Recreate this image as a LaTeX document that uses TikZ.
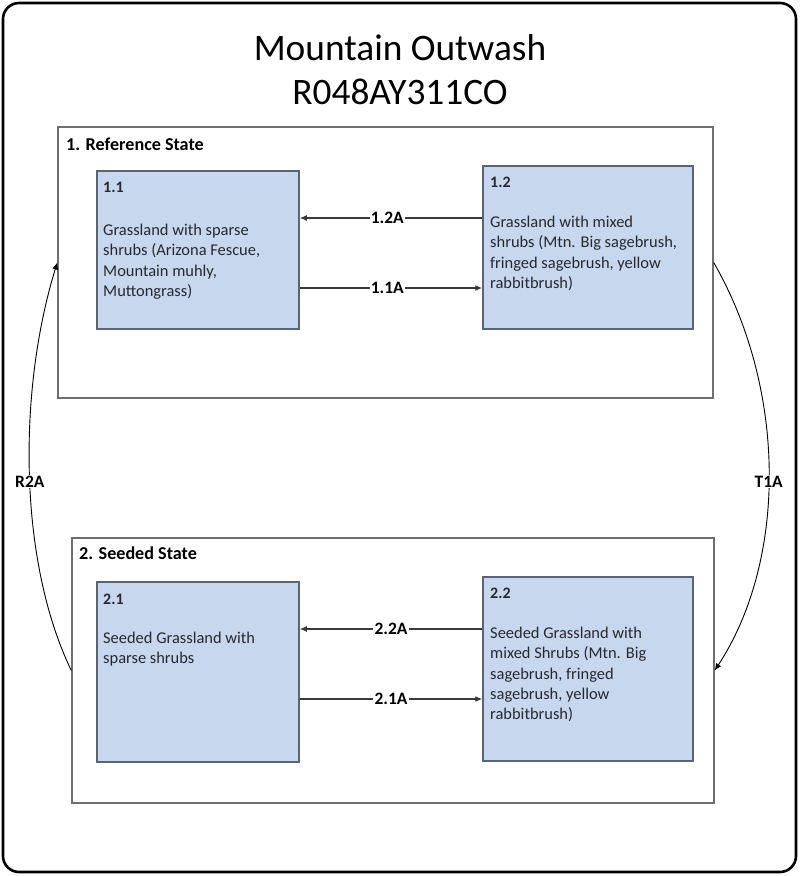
\documentclass[tikz,border=0pt]{standalone}
\usepackage{fontspec}
\setmainfont{Carlito}
\usetikzlibrary{arrows.meta}
\definecolor{boxfill}{HTML}{C6D7EE}
\definecolor{boxdraw}{HTML}{5B6473}
\definecolor{statedraw}{HTML}{6E6E6E}
\definecolor{txt}{HTML}{262A30}
\definecolor{linec}{HTML}{3A3A3A}
\tikzset{
  x=1bp, y=-1bp,
  outer/.style={draw=black, line width=2.6bp, rounded corners=16bp},
  statebox/.style={draw=statedraw, line width=1.4bp, fill=white, inner sep=0pt},
  phasebox/.style={draw=boxdraw, line width=1.5bp, fill=boxfill, inner sep=0pt},
  statelbl/.style={anchor=north west, inner sep=0pt, font=\fontsize{18.2}{22}\selectfont\bfseries, text=black},
  numlbl/.style={anchor=north west, inner sep=0pt, font=\fontsize{16}{20}\selectfont\bfseries, text=txt},
  bodytxt/.style={anchor=north west, inner sep=0pt, align=left, font=\fontsize{16.5}{20.3}\selectfont, text=txt},
  arr/.style={draw=linec, line width=1.1bp, -{Latex[length=7bp,width=6bp]}},
  curv/.style={draw=black, line width=0.9bp, -{Latex[length=7bp,width=6bp]}},
  lbl/.style={fill=white, inner sep=1.2bp, font=\fontsize{17.5}{20}\selectfont\bfseries, text=black},
}
\begin{document}
\begin{tikzpicture}
\useasboundingbox (0,0) rectangle (800,876);
\draw[outer] (3,3) rectangle (796,872);
\node[inner sep=0pt, align=center, font=\fontsize{37.5}{44}\selectfont, text=black] (title) at (400,70) {Mountain Outwash\\R048AY311CO};

% state boxes
\node[statebox, minimum width=655bp, minimum height=271bp] (s1) at (385.5,262.5) {};
\node[statebox, minimum width=642bp, minimum height=265bp] (s2) at (393,670.5) {};
\node[statelbl] (s1l) at (66,137.5) {1. Reference State};
\node[statelbl] (s2l) at (79,547) {2. Seeded State};

% phase boxes
\node[phasebox, minimum width=202bp, minimum height=158bp] (b11) at (198,250) {};
\node[phasebox, minimum width=210bp, minimum height=163bp] (b12) at (588,247.5) {};
\node[phasebox, minimum width=202bp, minimum height=180bp] (b21) at (198,672) {};
\node[phasebox, minimum width=210bp, minimum height=184bp] (b22) at (588,669) {};

\node[numlbl] (n11) at (103,182) {1.1};
\node[numlbl] (n12) at (490,177) {1.2};
\node[numlbl] (n21) at (103,594) {2.1};
\node[numlbl] (n22) at (490,588) {2.2};

\node[bodytxt] (t11) at (103,224) {Grassland with sparse\\shrubs (Arizona Fescue,\\Mountain muhly,\\Muttongrass)};
\node[bodytxt] (t12) at (490,216) {Grassland with mixed\\shrubs (Mtn. Big sagebrush,\\fringed sagebrush, yellow\\rabbitbrush)};
\node[bodytxt] (t21) at (103,632) {Seeded Grassland with\\sparse shrubs};
\node[bodytxt] (t22) at (490,627) {Seeded Grassland with\\mixed Shrubs (Mtn. Big\\sagebrush, fringed\\sagebrush, yellow\\rabbitbrush)};

% within-state transitions
\coordinate (ya) at (0,218);
\coordinate (yb) at (0,288);
\coordinate (yc) at (0,629);
\coordinate (yd) at (0,699);
\draw[arr] (b12.west |- ya) -- node[lbl, pos=0.52]{1.2A} (b11.east |- ya);
\draw[arr] (b11.east |- yb) -- node[lbl, pos=0.48]{1.1A} (b12.west |- yb);
\draw[arr] (b22.west |- yc) -- node[lbl, pos=0.5]{2.2A} (b21.east |- yc);
\draw[arr] (b21.east |- yd) -- node[lbl, pos=0.5]{2.1A} (b22.west |- yd);

% between-state transitions
\draw[curv] (s1.east) .. controls (787,390) and (787,560) .. node[lbl, pos=0.52]{T1A} (s2.east);
\draw[curv] (s2.west) .. controls (18,560) and (18,390) .. node[lbl, pos=0.48]{R2A} (s1.west);
\end{tikzpicture}
\end{document}
